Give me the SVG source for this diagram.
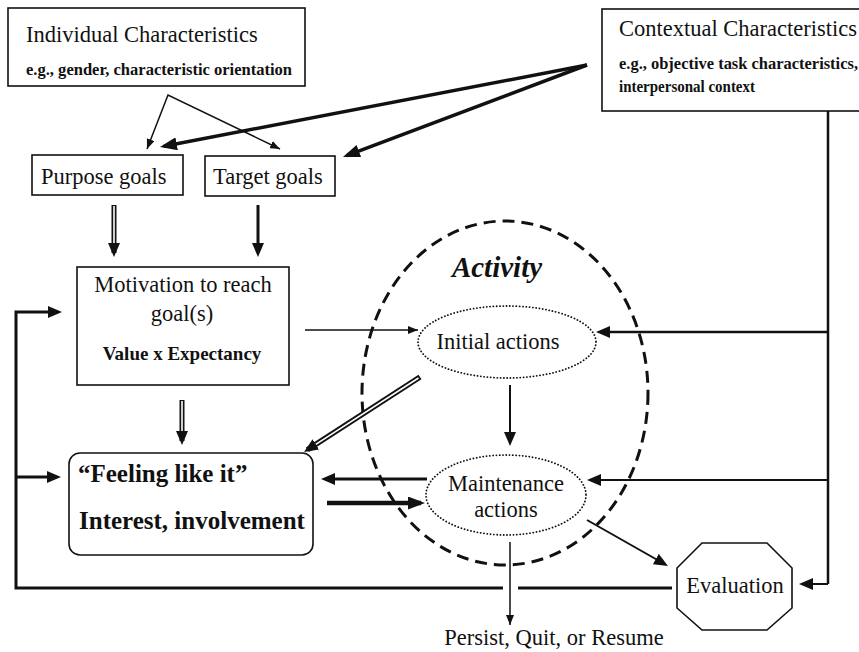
<svg xmlns="http://www.w3.org/2000/svg" width="859" height="652" viewBox="0 0 859 652">
<style>
  text { font-family: "Liberation Serif", "Times New Roman", serif; fill: #111; }
  .t { font-size: 22.5px; }
  .b { font-weight: bold; }
  .box { fill: #fff; stroke: #111; stroke-width: 1.6; }
  .ln { fill: none; stroke: #111; stroke-linecap: butt; }
  .wh { fill: none; stroke: #fff; stroke-width: 1.6; }
  .dot { fill: none; stroke: #111; stroke-width: 1.8; stroke-dasharray: 0.1 3.2; stroke-linecap: round; }
</style>
<defs>
  <marker id="hs" markerUnits="userSpaceOnUse" markerWidth="10" markerHeight="8" refX="10" refY="4" orient="auto-start-reverse">
    <path d="M0,0 L10,4 L0,8 Z" fill="#111"/>
  </marker>
  <marker id="hd" markerUnits="userSpaceOnUse" markerWidth="14" markerHeight="12" refX="10" refY="6" orient="auto">
    <path d="M0,0 L14,6 L0,12 Z" fill="#111"/>
  </marker>
  <marker id="hdL" markerUnits="userSpaceOnUse" markerWidth="17" markerHeight="13" refX="13" refY="6.5" orient="auto">
    <path d="M0,0 L17,6.5 L0,13 Z" fill="#111"/>
  </marker>
</defs>

<rect width="859" height="652" fill="#fff"/>

<g id="activity">
  <ellipse cx="505" cy="393" rx="143" ry="172" fill="none" stroke="#111" stroke-width="3" stroke-dasharray="12 7"/>
  <text x="497" y="277" text-anchor="middle" font-size="29" font-weight="bold" font-style="italic">Activity</text>
</g>

<g id="connectors">
  <!-- individual characteristics to goals -->
  <path class="ln" d="M147,149 L168,95 L280,149" stroke-width="1.5" marker-start="url(#hs)" marker-end="url(#hs)"/>
  <!-- contextual characteristics to goals -->
  <line class="ln" x1="587" y1="65" x2="163.9" y2="146.2" stroke-width="3.5" marker-end="url(#hdL)"/>
  <line class="ln" x1="587" y1="65" x2="346.7" y2="155.6" stroke-width="3.5" marker-end="url(#hdL)"/>
  <!-- purpose goals to motivation (hollow) -->
  <line class="ln" x1="114" y1="205" x2="114" y2="253" stroke-width="5" marker-end="url(#hd)"/>
  <line class="wh" x1="114" y1="206" x2="114" y2="243"/>
  <!-- target goals to motivation -->
  <line class="ln" x1="258" y1="205" x2="258" y2="253" stroke-width="3" marker-end="url(#hd)"/>
  <!-- motivation to feeling (hollow) -->
  <line class="ln" x1="182" y1="400" x2="182" y2="441" stroke-width="5" marker-end="url(#hd)"/>
  <line class="wh" x1="182" y1="401" x2="182" y2="431"/>
  <!-- motivation to initial actions -->
  <line class="ln" x1="305" y1="330" x2="418" y2="330" stroke-width="1.5" marker-end="url(#hs)"/>
  <!-- contextual feed on the right -->
  <line class="ln" x1="828" y1="111" x2="828" y2="584" stroke-width="2.5"/>
  <line class="ln" x1="828" y1="332" x2="600" y2="332" stroke-width="2.5" marker-end="url(#hd)"/>
  <line class="ln" x1="828" y1="480" x2="591" y2="480" stroke-width="1.8" marker-end="url(#hd)"/>
  <line class="ln" x1="828" y1="584" x2="803" y2="584" stroke-width="2" marker-end="url(#hd)"/>
  <!-- initial to maintenance -->
  <line class="ln" x1="510" y1="385" x2="510" y2="442" stroke-width="2" marker-end="url(#hd)"/>
  <!-- initial to feeling (hollow) -->
  <line class="ln" x1="420" y1="377" x2="307.4" y2="449.8" stroke-width="5.5" marker-end="url(#hd)"/>
  <line class="wh" x1="418.5" y1="378" x2="315.8" y2="444.4"/>
  <!-- maintenance to feeling -->
  <line class="ln" x1="427" y1="479" x2="325" y2="479" stroke-width="3" marker-end="url(#hd)"/>
  <!-- feeling to maintenance -->
  <line class="ln" x1="327" y1="503" x2="421" y2="503" stroke-width="4.5" marker-end="url(#hdL)"/>
  <!-- maintenance to evaluation -->
  <line class="ln" x1="587" y1="520" x2="664.5" y2="564" stroke-width="2" marker-end="url(#hd)"/>
  <!-- maintenance to outcome -->
  <line class="ln" x1="510" y1="542" x2="510" y2="625" stroke-width="1.5" marker-end="url(#hs)"/>
  <!-- evaluation feedback loop -->
  <line class="ln" x1="672" y1="588" x2="518" y2="588" stroke-width="3"/>
  <path class="ln" d="M503,588 L16,588 L16,312 L58,312" stroke-width="3" stroke-linejoin="miter" marker-end="url(#hd)"/>
  <line class="ln" x1="16" y1="477" x2="57" y2="477" stroke-width="3" marker-end="url(#hd)"/>
</g>

<g id="individual">
  <rect class="box" x="8" y="8" width="297" height="78"/>
  <text class="t" x="26" y="42">Individual Characteristics</text>
  <text class="b" x="26" y="75" font-size="16" textLength="266" lengthAdjust="spacingAndGlyphs">e.g., gender, characteristic orientation</text>
</g>

<g id="contextual">
  <rect class="box" x="602" y="9" width="270" height="102"/>
  <text class="t" x="619" y="36">Contextual Characteristics</text>
  <text class="b" x="619" y="69" font-size="16" textLength="239" lengthAdjust="spacingAndGlyphs">e.g., objective task characteristics,</text>
  <text class="b" x="619" y="92" font-size="16" textLength="136" lengthAdjust="spacingAndGlyphs">interpersonal context</text>
</g>

<g id="purpose">
  <rect class="box" x="32" y="155" width="151" height="40"/>
  <text class="t" x="41" y="184">Purpose goals</text>
</g>

<g id="target">
  <rect class="box" x="205" y="156" width="130" height="40"/>
  <text class="t" x="213" y="184">Target goals</text>
</g>

<g id="motivation">
  <rect class="box" x="77" y="267" width="212" height="118"/>
  <text class="t" x="183" y="292" text-anchor="middle">Motivation to reach</text>
  <text class="t" x="182" y="321" text-anchor="middle">goal(s)</text>
  <text class="b" x="182" y="360" text-anchor="middle" font-size="19">Value x Expectancy</text>
</g>

<g id="feeling">
  <rect class="box" x="69" y="453" width="244" height="102" rx="11" ry="11"/>
  <text class="b" x="78" y="482" font-size="25">“Feeling like it”</text>
  <text class="b" x="79" y="529" font-size="25">Interest, involvement</text>
</g>

<g id="initial">
  <ellipse class="dot" cx="507" cy="342" rx="89" ry="36"/>
  <text class="t" x="498" y="349" text-anchor="middle">Initial actions</text>
</g>

<g id="maintenance">
  <ellipse class="dot" cx="506" cy="495" rx="80" ry="40"/>
  <text class="t" x="506" y="491" text-anchor="middle">Maintenance</text>
  <text class="t" x="506" y="517" text-anchor="middle">actions</text>
</g>

<g id="evaluation">
  <polygon class="box" points="702,543 767,543 792,568 792,608 767,630 702,630 677,608 677,568"/>
  <text class="t" x="735" y="593" text-anchor="middle">Evaluation</text>
</g>

<g id="outcome">
  <text class="t" x="554" y="645" text-anchor="middle">Persist, Quit, or Resume</text>
</g>
</svg>
